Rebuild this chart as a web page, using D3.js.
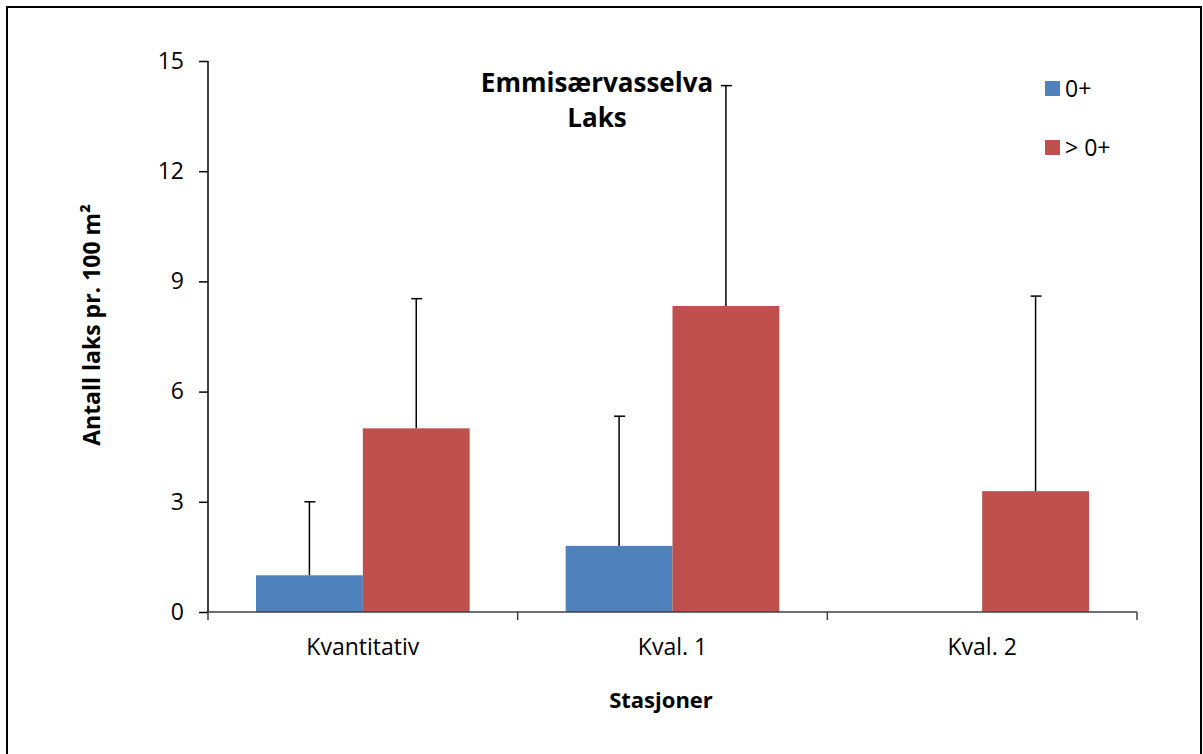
<!DOCTYPE html>
<html>
<head>
<meta charset="utf-8">
<script src="https://cdn.jsdelivr.net/npm/d3@7"></script>
<style>
  body { margin: 0; background: #fff; }
  text { font-family: "Open Sans", sans-serif; fill: #000; }
</style>
</head>
<body>
<svg id="chart" width="1203" height="754"></svg>
<script>
// data
const stations = ['Kvantitativ', 'Kval. 1', 'Kval. 2'];
const series = ['0+', '> 0+'];
const young = [1.0, 1.8, 0];         // 0+
const older = [5.0, 8.33, 3.29];     // > 0+
const youngErr = [3.0, 5.33, null];  // top of error bar
const olderErr = [8.53, 14.33, 8.6];
const yTicks = [0, 3, 6, 9, 12, 15];
const colors = ['#4F81BD', '#C0504D'];

const svg = d3.select('#chart');

// outer frame
svg.append('rect')
  .attr('x', 7).attr('y', 7).attr('width', 1194).attr('height', 760)
  .attr('fill', 'none').attr('stroke', '#000').attr('stroke-width', 2);

const mLeft = 208, mRight = 1137, mTop = 61, mBottom = 612;

const x0 = d3.scaleBand().domain(stations).range([mLeft, mRight]).paddingInner(0.31).paddingOuter(0.155);
const x1 = d3.scaleBand().domain(series).range([0, x0.bandwidth()]);
const y = d3.scaleLinear().domain([0, 15]).range([mBottom, mTop]);

const rows = stations.map((s, i) => [
  { st: s, k: series[0], v: young[i], e: youngErr[i], c: colors[0] },
  { st: s, k: series[1], v: older[i], e: olderErr[i], c: colors[1] }
]).flat();

// error bars (drawn under bars so the stem starts at bar top)
const eb = svg.append('g').selectAll('g').data(rows.filter(d => d.e != null)).join('g')
  .attr('stroke', '#000').attr('stroke-width', 1.5);
eb.append('line')
  .attr('x1', d => x0(d.st) + x1(d.k) + x1.bandwidth() / 2)
  .attr('x2', d => x0(d.st) + x1(d.k) + x1.bandwidth() / 2)
  .attr('y1', d => y(d.v)).attr('y2', d => y(d.e));
eb.append('line')
  .attr('x1', d => x0(d.st) + x1(d.k) + x1.bandwidth() / 2 - 5)
  .attr('x2', d => x0(d.st) + x1(d.k) + x1.bandwidth() / 2 + 6)
  .attr('y1', d => y(d.e)).attr('y2', d => y(d.e));

svg.append('g').selectAll('rect').data(rows.filter(d => d.v > 0)).join('rect')
  .attr('x', d => x0(d.st) + x1(d.k))
  .attr('y', d => y(d.v))
  .attr('width', x1.bandwidth())
  .attr('height', d => mBottom - y(d.v))
  .attr('fill', d => d.c);

// y axis
const yAxis = svg.append('g').attr('transform', `translate(${mLeft},0)`)
  .call(d3.axisLeft(y).tickValues(yTicks).tickSize(9).tickPadding(15));
yAxis.selectAll('text').attr('font-size', 23);
yAxis.selectAll('line, path').attr('stroke', '#000').attr('stroke-width', 1.5);
yAxis.select('.domain').attr('d', `M0,${mTop}V${mBottom}`);

// x axis with ticks at category boundaries
const xAxis = svg.append('g').attr('transform', `translate(0,${mBottom})`);
xAxis.append('line').attr('x1', mLeft).attr('x2', mRight).attr('stroke', '#404040').attr('stroke-width', 1.5);
const bounds = stations.map(s => x0(s) - x0.step() * x0.paddingInner() / 2);
bounds.push(mRight);
xAxis.selectAll('.tk').data(bounds).join('line')
  .attr('x1', d => d).attr('x2', d => d).attr('y1', 0).attr('y2', 8)
  .attr('stroke', '#404040').attr('stroke-width', 1.5);
xAxis.selectAll('text').data(stations).join('text')
  .attr('x', d => x0(d) + x0.bandwidth() / 2).attr('y', 43)
  .attr('text-anchor', 'middle').attr('font-size', 23).text(d => d);

// titles
svg.append('text').attr('x', 597).attr('y', 92).attr('text-anchor', 'middle')
  .attr('font-size', 26).attr('font-weight', 'bold').text('Emmisærvasselva');
svg.append('text').attr('x', 597).attr('y', 127).attr('text-anchor', 'middle')
  .attr('font-size', 26).attr('font-weight', 'bold').text('Laks');
svg.append('text').attr('transform', 'translate(100,325) rotate(-90)').attr('text-anchor', 'middle')
  .attr('font-size', 23).attr('font-weight', 'bold').text('Antall laks pr. 100 m²');
svg.append('text').attr('x', 661).attr('y', 708).attr('text-anchor', 'middle')
  .attr('font-size', 22).attr('font-weight', 'bold').text('Stasjoner');

// legend
const lg = svg.append('g').selectAll('g').data(series).join('g')
  .attr('transform', (d, i) => `translate(1045,${81 + i * 59})`);
lg.append('rect').attr('width', 15).attr('height', 15).attr('fill', (d, i) => colors[i]);
lg.append('text').attr('x', 20).attr('y', 16).attr('font-size', 23).text(d => d);
</script>
</body>
</html>
